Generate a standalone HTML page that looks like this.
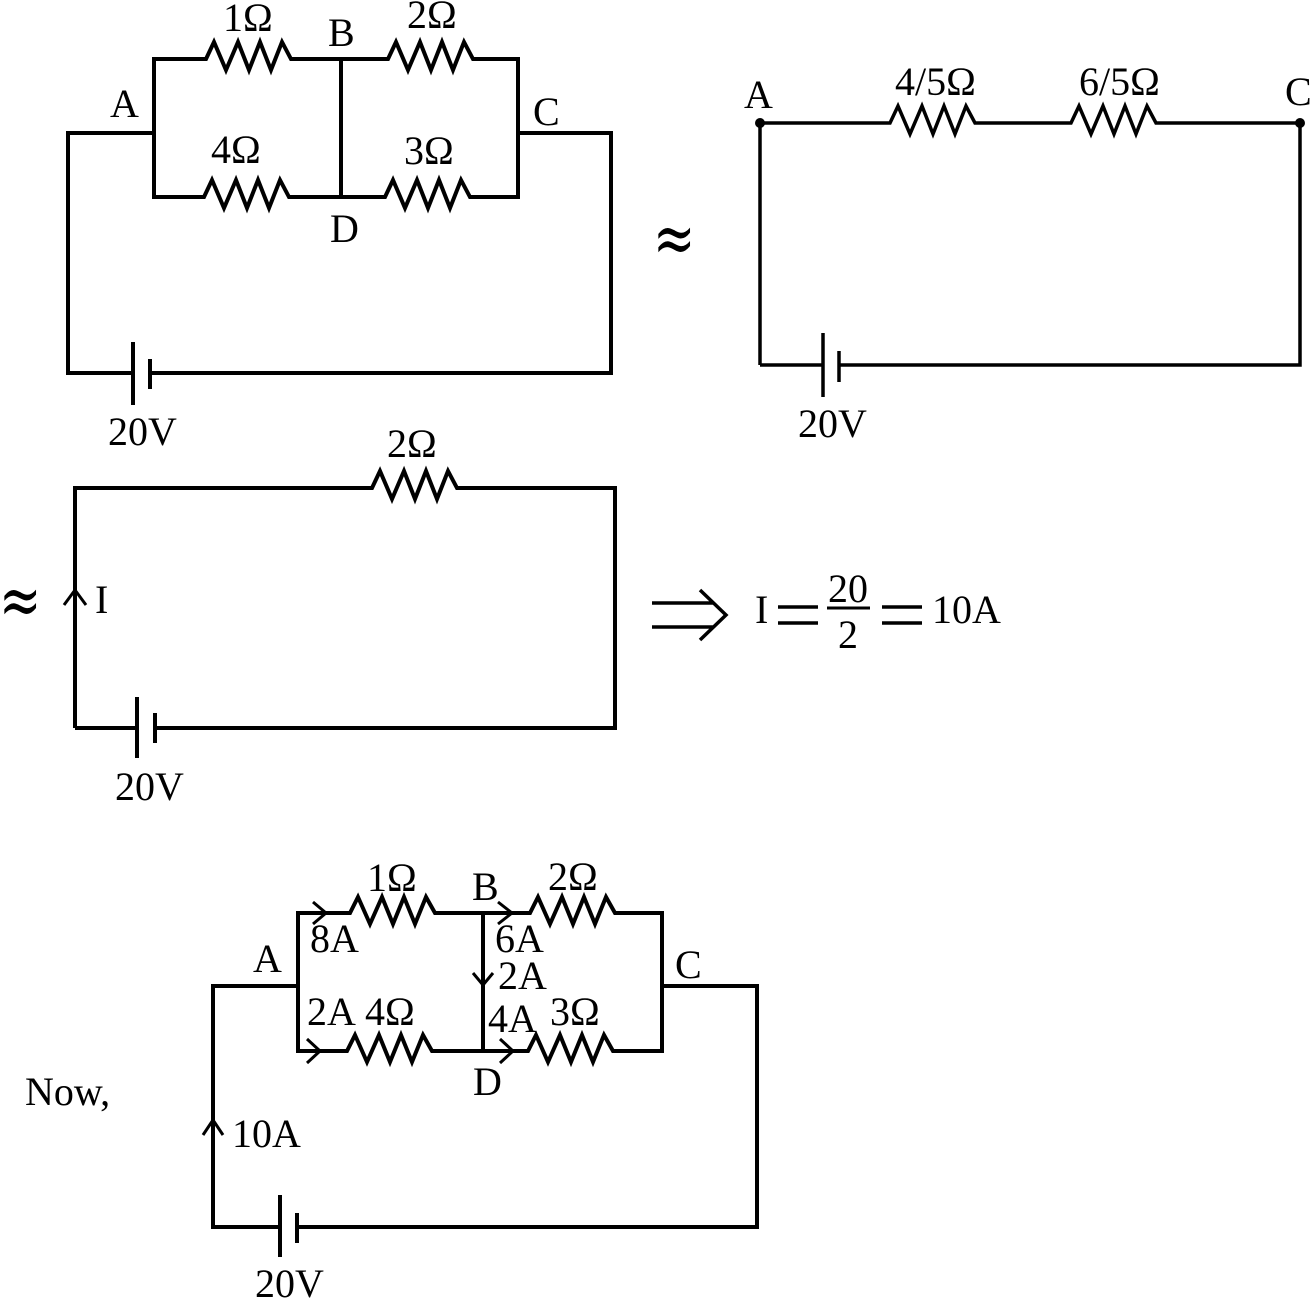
<!DOCTYPE html>
<html><head><meta charset="utf-8"><style>
html,body{margin:0;padding:0;background:#fff;}
svg{display:block;}
text{font-family:"Liberation Serif","Times New Roman",serif;font-size:40px;fill:#000;}
</style></head><body>
<svg width="1310" height="1299" viewBox="0 0 1310 1299" xmlns="http://www.w3.org/2000/svg">
<g fill="none" stroke="#000" stroke-width="4" stroke-linejoin="miter">
<!-- Top-left circuit -->
<path d="M154,59 L206,59 L214,42 L226,70 L238,42 L249,70 L260,42 L271,70 L282,42 L291,59 L388,59 L396,42 L408,70 L420,42 L431,70 L442,42 L453,70 L464,42 L473,59 L518,59"/>
<path d="M154,197 L204,197 L212,180 L224,208 L236,180 L247,208 L258,180 L269,208 L280,180 L289,197 L385,197 L393,180 L405,208 L417,180 L428,208 L439,180 L450,208 L461,180 L470,197 L518,197"/>
<path d="M154,57 L154,199 M341,57 L341,199 M518,57 L518,199"/>
<path d="M154,133 L68,133 L68,373 L133,373 M150,373 L611,373 L611,133 L518,133"/>
<path d="M133,342 L133,405 M150,359 L150,389"/>
<!-- Top-right circuit -->
<path stroke-width="3.5" d="M760,365 L760,123 L890,123 L898,106 L910,134 L922,106 L933,134 L944,106 L955,134 L966,106 L975,123 L1071,123 L1079,106 L1091,134 L1103,106 L1114,134 L1125,106 L1136,134 L1147,106 L1156,123 L1300,123 L1300,365 L839,365 M760,365 L823,365"/>
<path stroke-width="3.5" d="M823,333 L823,397 M839,351 L839,382"/>
<!-- Middle circuit -->
<path d="M75,728 L75,488 L372,488 L380,471 L392,499 L404,471 L415,499 L426,471 L437,499 L448,471 L457,488 L615,488 L615,728 L155,728 M75,728 L137,728"/>
<path d="M137,697 L137,758 M155,713 L155,743"/>
<path stroke-width="3" d="M64,605 L75,590 L86,605"/>
<!-- Implies arrow -->
<path stroke-width="3.5" d="M652,603 L713,603 M652,627 L713,627 M700,590 L726,615 L700,640"/>
<path stroke-width="3" d="M827,608 L870,608"/>
<path stroke-width="3.5" d="M778,607 L818,607 M778,623 L818,623 M882,607 L922,607 M882,623 L922,623"/>
<!-- Bottom circuit -->
<path d="M298,986 L213,986 L213,1227 L280,1227 M297,1227 L757,1227 L757,986 L662,986"/>
<path d="M298,911 L298,1053 M483,911 L483,1053 M662,911 L662,1053"/>
<path d="M298,913 L350,913 L358,897 L370,924 L382,897 L393,924 L404,897 L415,924 L426,897 L435,913 L530,913 L538,897 L550,924 L562,897 L573,924 L584,897 L595,924 L606,897 L615,913 L662,913"/>
<path d="M298,1051 L347,1051 L355,1035 L367,1062 L379,1035 L390,1062 L401,1035 L412,1062 L423,1035 L432,1051 L528,1051 L536,1035 L548,1062 L560,1035 L571,1062 L582,1035 L593,1062 L604,1035 L613,1051 L662,1051"/>
<path d="M280,1195 L280,1257 M297,1213 L297,1243"/>
<path stroke-width="3" d="M313,902 L326,913 L313,924 M498,902 L512,913 L498,924 M307,1039 L320,1051 L307,1063 M500,1039 L513,1051 L500,1063 M473,973 L483,985 L493,973 M203,1135 L213,1120 L223,1135"/>
</g>
<circle cx="760" cy="123" r="5" fill="#000"/>
<circle cx="1300" cy="123" r="5" fill="#000"/>

<!-- Top-left labels -->
<text x="223" y="31">1Ω</text>
<text x="328" y="46">B</text>
<text x="407" y="28">2Ω</text>
<text x="110" y="117">A</text>
<text x="533" y="125">C</text>
<text x="211" y="163">4Ω</text>
<text x="404" y="164">3Ω</text>
<text x="330" y="242">D</text>
<text x="108" y="445">20V</text>

<!-- Top-right labels -->
<text transform="translate(653,262) scale(1.15,1.6)" style="font-family:'DejaVu Serif',serif;font-size:44px">≈</text>
<text x="744" y="108">A</text>
<text x="895" y="95">4/5Ω</text>
<text x="1079" y="95">6/5Ω</text>
<text x="1285" y="105">C</text>
<text x="798" y="437">20V</text>

<!-- Middle labels -->
<text x="387" y="457">2Ω</text>
<text transform="translate(-1,624) scale(1.15,1.6)" style="font-family:'DejaVu Serif',serif;font-size:44px">≈</text>
<text x="95" y="613">I</text>
<text x="115" y="800">20V</text>
<text x="755" y="623">I</text>
<text x="848" y="602" text-anchor="middle">20</text>
<text x="848" y="648" text-anchor="middle">2</text>
<text x="932" y="623">10A</text>

<!-- Bottom labels -->
<text x="367" y="891">1Ω</text>
<text x="472" y="900">B</text>
<text x="548" y="890">2Ω</text>
<text x="310" y="952">8A</text>
<text x="253" y="972">A</text>
<text x="495" y="952">6A</text>
<text x="498" y="989">2A</text>
<text x="675" y="978">C</text>
<text x="307" y="1025">2A</text>
<text x="365" y="1025">4Ω</text>
<text x="488" y="1032">4A</text>
<text x="550" y="1025">3Ω</text>
<text x="473" y="1095">D</text>
<text x="25" y="1105">Now,</text>
<text x="232" y="1147">10A</text>
<text x="255" y="1297">20V</text>
</svg>
</body></html>
